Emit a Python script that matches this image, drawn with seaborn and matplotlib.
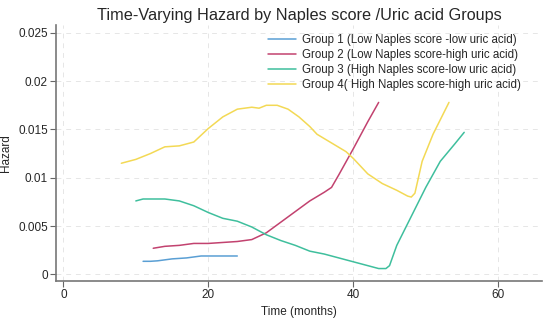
import pandas as pd
import seaborn as sns
from matplotlib import pyplot as plt

labels = ['Group 1 (Low Naples score -low uric acid)',
          'Group 2 (Low Naples score-high uric acid)',
          'Group 3 (High Naples score-low uric acid)',
          'Group 4( High Naples score-high uric acid)']
colors = ['#5a9fd4', '#c2426f', '#3fbf9d', '#f3d955']

t1 = [11, 12, 13, 15, 17, 19, 21, 24]
h1 = [0.00135, 0.00135, 0.0014, 0.0016, 0.0017, 0.0019, 0.0019, 0.0019]

t2 = [12.4, 14, 16, 18, 20, 22, 24, 26, 28, 30, 32, 34, 36, 37, 38, 40, 42, 43.5]
h2 = [0.0027, 0.0029, 0.0030, 0.0032, 0.0032, 0.0033, 0.0034, 0.0036, 0.0043,
      0.0054, 0.0065, 0.0076, 0.0085, 0.0090, 0.0103, 0.0130, 0.0158, 0.0178]

t3 = [10, 11, 12, 14, 16, 18, 20, 22, 24, 26, 28, 30, 32, 34, 36, 38, 40, 42,
      43.5, 44.5, 45, 46, 48, 50, 52, 54, 55.3]
h3 = [0.0076, 0.0078, 0.0078, 0.0078, 0.0076, 0.0071, 0.0064, 0.0058, 0.0055,
      0.0049, 0.0041, 0.0035, 0.0030, 0.0024, 0.0021, 0.0017, 0.0013, 0.0009,
      0.0006, 0.0006, 0.0009, 0.0030, 0.0060, 0.0090, 0.0117, 0.0135, 0.0147]

t4 = [8, 10, 12, 14, 16, 18, 20, 22, 24, 26, 27, 28, 29.5, 31, 32.5, 34, 35,
      37, 39, 40, 42, 44, 46, 47.5, 48, 48.5, 49.5, 51, 53.2]
h4 = [0.0115, 0.0119, 0.0125, 0.0132, 0.0133, 0.0137, 0.0151, 0.0163, 0.0171,
      0.0173, 0.0172, 0.0175, 0.0175, 0.0171, 0.0163, 0.0153, 0.0145, 0.0136,
      0.0127, 0.0120, 0.0104, 0.0094, 0.0087, 0.0081, 0.0080, 0.0084, 0.0117,
      0.0145, 0.0178]

frames = []
for lab, t, h in zip(labels, [t1, t2, t3, t4], [h1, h2, h3, h4]):
    frames.append(pd.DataFrame({'time': t, 'hazard': h, 'group': lab}))
df = pd.concat(frames)

sns.set_style('white')
plt.rcParams['font.family'] = ['Liberation Sans', 'DejaVu Sans']

fig = plt.figure(figsize=(5.5, 3.22), dpi=100)
ax = fig.add_axes([0.102, 0.127, 0.883, 0.795])
sns.lineplot(data=df, x='time', y='hazard', hue='group', palette=colors,
             hue_order=labels, linewidth=1.1, ax=ax, sort=False, estimator=None)

ax.set_xlim(-1, 66)
ax.set_ylim(-0.0007, 0.0258)
ax.set_xticks([0, 20, 40, 60])
ax.set_yticks([0, 0.005, 0.01, 0.015, 0.02, 0.025])
ax.set_yticklabels(['0', '0.005', '0.01', '0.015', '0.02', '0.025'])
ax.grid(True, linestyle=(0, (5, 5)), color='#e6e6e6', linewidth=0.7)
ax.tick_params(axis='both', labelsize=8.5, length=4, color='#666666',
               left=True, bottom=True, pad=2)
for s in ['top', 'right']:
    ax.spines[s].set_visible(False)
for s in ['left', 'bottom']:
    ax.spines[s].set_color('#777777')
    ax.spines[s].set_linewidth(1.2)
ax.set_xlabel('Time (months)', fontsize=8.5, labelpad=3)
ax.set_ylabel('Hazard', fontsize=8.5, labelpad=4)
ax.set_title('Time-Varying Hazard by Naples score /Uric acid Groups',
             fontsize=11.7, x=0.5, pad=3.5)
ax.legend(frameon=False, loc='upper left', fontsize=8.3, handlelength=2.4,
          handletextpad=0.6, labelspacing=0.25, borderpad=0, borderaxespad=0,
          bbox_to_anchor=(0.436, 0.965))

plt.savefig('out.png', dpi=100)
